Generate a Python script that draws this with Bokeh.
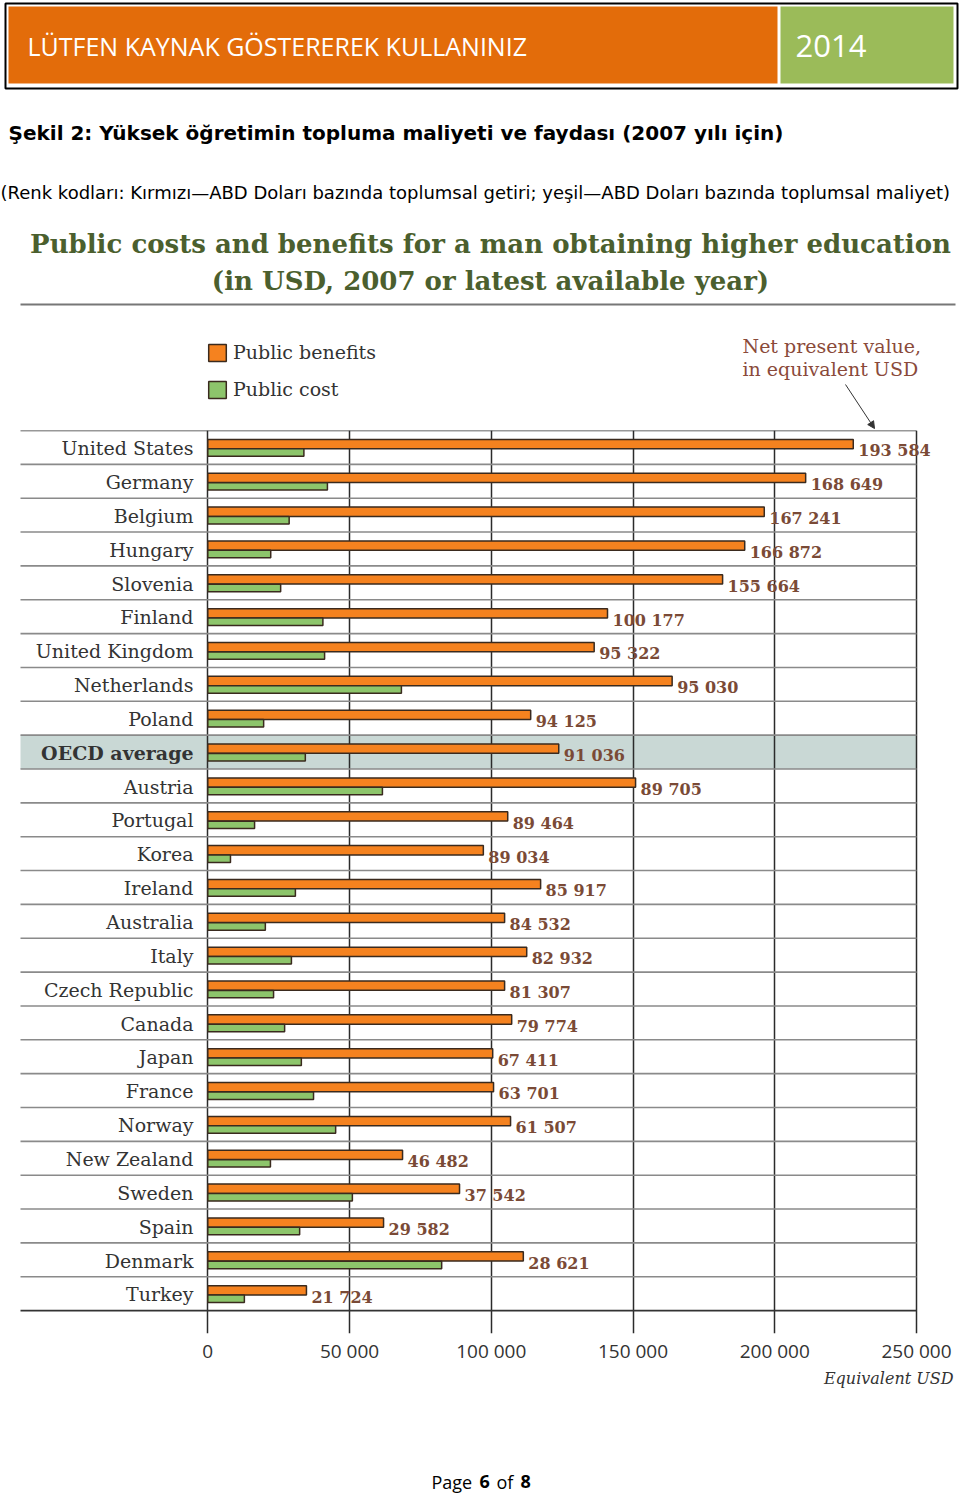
from bokeh.plotting import figure
from bokeh.layouts import column
from bokeh.models import (Range1d, FixedTicker, ColumnDataSource, Legend, LegendItem,
                          Arrow, NormalHead)
from bokeh.core.properties import value
from bokeh.embed import file_html
from bokeh.resources import INLINE

# ---------------- data ----------------
countries = ["United States", "Germany", "Belgium", "Hungary", "Slovenia", "Finland",
             "United Kingdom", "Netherlands", "Poland", "OECD average", "Austria",
             "Portugal", "Korea", "Ireland", "Australia", "Italy", "Czech Republic",
             "Canada", "Japan", "France", "Norway", "New Zealand", "Sweden", "Spain",
             "Denmark", "Turkey"]
public_benefits = [227700, 210900, 196300, 189400, 181600, 141000, 136300, 163800,
                   113900, 123800, 150900, 105800, 97200, 117400, 104700, 112500,
                   104700, 107200, 100500, 100800, 106800, 68700, 88800, 62000,
                   111300, 34800]
public_cost = [33900, 42200, 28700, 22200, 25700, 40600, 41200, 68300, 19700, 34400,
               61600, 16500, 8000, 30900, 20300, 29500, 23200, 27100, 33000, 37300,
               45100, 22100, 51000, 32400, 82500, 12900]
net_present_value = [193584, 168649, 167241, 166872, 155664, 100177, 95322, 95030,
                     94125, 91036, 89705, 89464, 89034, 85917, 84532, 82932, 81307,
                     79774, 67411, 63701, 61507, 46482, 37542, 29582, 28621, 21724]
x_ticks = [0, 50000, 100000, 150000, 200000, 250000]
x_tick_labels = ["0", "50 000", "100 000", "150 000", "200 000", "250 000"]

# ---------------- styles ----------------
ORANGE = "#F5821F"
GREEN = "#8DC56B"
BAR_LINE = "#3A2A1E"
BROWN = "#7A4A36"
TITLE_GREEN = "#4B5F2E"
SERIF = value("DejaVu Serif")
W = 960

# ---------------- top figure: header, captions, title, legend ----------------
top = figure(width=W, height=430, x_range=Range1d(0, W), y_range=Range1d(430, 0),
             toolbar_location=None, output_backend="svg", min_border=0,
             x_axis_location=None, y_axis_location=None, outline_line_color=None)
top.xgrid.visible = False
top.ygrid.visible = False

top.quad(left=[5], right=[957], top=[3], bottom=[88], fill_color="white",
         line_color="black", line_width=2)
top.quad(left=[8], right=[777], top=[6], bottom=[83], fill_color="#E36C0A", line_color=None)
top.quad(left=[780], right=[953], top=[6], bottom=[83], fill_color="#9BBB59", line_color=None)
top.text(x=[27], y=[45], text=["LÜTFEN KAYNAK GÖSTEREREK KULLANINIZ"],
         text_font=value("Open Sans"), text_font_size="25px", text_color="white",
         text_baseline="middle", text_align="left")
top.text(x=[795], y=[45], text=["2014"], text_font=value("Open Sans"),
         text_font_size="31px", text_color="white", text_baseline="middle")

top.text(x=[8], y=[132], text=["Şekil 2: Yüksek öğretimin topluma maliyeti ve faydası (2007 yılı için)"],
         text_font=value("DejaVu Sans"), text_font_style="bold", text_font_size="20px",
         text_color="black", text_baseline="middle")
top.text(x=[0], y=[192], text=["(Renk kodları: Kırmızı—ABD Doları bazında toplumsal getiri; yeşil—ABD Doları bazında toplumsal maliyet)"],
         text_font=value("DejaVu Sans"), text_font_size="18px", text_color="black",
         text_baseline="middle")

top.text(x=[490, 490], y=[243, 280],
         text=["Public costs and benefits for a man obtaining higher education",
               "(in USD, 2007 or latest available year)"],
         text_font=SERIF, text_font_style="bold", text_font_size="26px",
         text_color=TITLE_GREEN, text_align="center", text_baseline="middle")
top.segment(x0=[20], x1=[955], y0=[304], y1=[304], line_color="#777777", line_width=2)

# legend (swatches from renderers of this figure; their data sit off-canvas)
r_ben = top.quad(left=[-60], right=[-50], top=[-60], bottom=[-50], fill_color=ORANGE,
                 line_color=BAR_LINE, line_width=1.5)
r_cost = top.quad(left=[-60], right=[-50], top=[-60], bottom=[-50], fill_color=GREEN,
                  line_color=BAR_LINE, line_width=1.5)
legend = Legend(items=[LegendItem(label="Public benefits", renderers=[r_ben]),
                       LegendItem(label="Public cost", renderers=[r_cost])],
                location=(206, 30), orientation="vertical", glyph_width=22, glyph_height=21,
                label_standoff=5, spacing=15, padding=0, margin=0, border_line_color=None,
                background_fill_alpha=0, label_text_font="DejaVu Serif",
                label_text_font_size="19px", label_text_color="#333333", label_height=17)
top.add_layout(legend)

top.text(x=[742, 742], y=[345, 368], text=["Net present value,", "in equivalent USD"],
         text_font=SERIF, text_font_size="19px", text_color="#8A4A3A",
         text_baseline="middle")
top.add_layout(Arrow(end=NormalHead(size=7, fill_color="#333333", line_color="#333333"),
                     x_start=845, y_start=384, x_end=874, y_end=428,
                     line_color="#333333", line_width=1))

# ---------------- main chart ----------------
PX0 = 207.3
PPU = 708.7 / 250000.0   # pixels per USD


def px_to_x(px):
    return (px - PX0) / PPU


n = len(countries)
ROW_PX = 33.85
FRAME_H = 903
main = figure(frame_width=W, frame_height=FRAME_H,
              x_range=Range1d(px_to_x(0), px_to_x(W)),
              y_range=Range1d(FRAME_H / ROW_PX, 0),
              toolbar_location=None, output_backend="svg",
              min_border_left=0, min_border_right=0, min_border_top=0, min_border_bottom=30,
              y_axis_location=None, outline_line_color=None)

rows = list(range(n))
oecd_idx = countries.index("OECD average")

band = main.quad(left=[px_to_x(20)], right=[px_to_x(916)], top=[oecd_idx],
                 bottom=[oecd_idx + 1], fill_color="#C9D8D5", line_color=None)
band.level = "underlay"

main.xgrid.ticker = FixedTicker(ticks=x_ticks)
main.xgrid.grid_line_color = "#2B2B2B"
main.xgrid.grid_line_width = 1.5
main.ygrid.visible = False

inner = list(range(1, n))
main.segment(x0=[px_to_x(20)] * len(inner), x1=[px_to_x(916)] * len(inner),
             y0=inner, y1=inner, line_color="#8A8A8A", line_width=1.6)
main.segment(x0=[px_to_x(20)] * 2, x1=[px_to_x(916)] * 2, y0=[0, n], y1=[0, n],
             line_color="#333333", line_width=1.6)

src = ColumnDataSource(dict(
    country=countries,
    benefit=public_benefits,
    cost=public_cost,
    net=[f"{v:,}".replace(",", " ") for v in net_present_value],
    y_ben=[i + 0.40 for i in rows],
    y_cost=[i + 0.65 for i in rows],
    y_lab=[i + 0.60 for i in rows],
    y_c=[i + 0.52 for i in rows],
    lab_x=[px_to_x(193)] * n,
    style=["bold" if c == "OECD average" else "normal" for c in countries],
))

main.hbar(y="y_ben", left=0, right="benefit", height=0.275, source=src,
          fill_color=ORANGE, line_color=BAR_LINE, line_width=1.5)
main.hbar(y="y_cost", left=0, right="cost", height=0.22, source=src,
          fill_color=GREEN, line_color=BAR_LINE, line_width=1.5)

main.text(x="benefit", y="y_lab", text="net", source=src, x_offset=5,
          text_font=SERIF, text_font_style="bold", text_font_size="16px",
          text_color=BROWN, text_baseline="middle", text_align="left")
main.text(x="lab_x", y="y_c", text="country", source=src,
          text_font=SERIF, text_font_style="style", text_font_size="19px",
          text_color="#333333", text_baseline="middle", text_align="right")

ax = main.xaxis[0]
ax.ticker = FixedTicker(ticks=x_ticks)
ax.major_label_overrides = {t: l for t, l in zip(x_ticks, x_tick_labels)}
ax.axis_line_color = None
ax.major_tick_line_color = None
ax.minor_tick_line_color = None
ax.major_tick_out = 0
ax.major_tick_in = 0
ax.minor_tick_out = 0
ax.minor_tick_in = 0
ax.major_label_standoff = 4
ax.major_label_text_font = "Open Sans"
ax.major_label_text_font_size = "19px"
ax.major_label_text_color = "#333333"

# ---------------- footer ----------------
FOOT_H = 129
foot = figure(width=W, height=FOOT_H, x_range=Range1d(0, W), y_range=Range1d(FOOT_H, 0),
              toolbar_location=None, output_backend="svg", min_border=0,
              x_axis_location=None, y_axis_location=None, outline_line_color=None)
foot.xgrid.visible = False
foot.ygrid.visible = False
foot.text(x=[953], y=[12], text=["Equivalent USD"], text_font=SERIF,
          text_font_style="italic", text_font_size="16px", text_color="#333333",
          text_align="right", text_baseline="middle")
foot.text(x=[431, 479, 496, 520], y=[115] * 4, text=["Page", "6", "of", "8"],
          text_font=value("Open Sans"), text_font_style=["normal", "bold", "normal", "bold"],
          text_font_size="18px", text_color="black", text_baseline="middle")

layout = column(top, main, foot, spacing=0)
open("out.html", "w").write(file_html(layout, INLINE))
